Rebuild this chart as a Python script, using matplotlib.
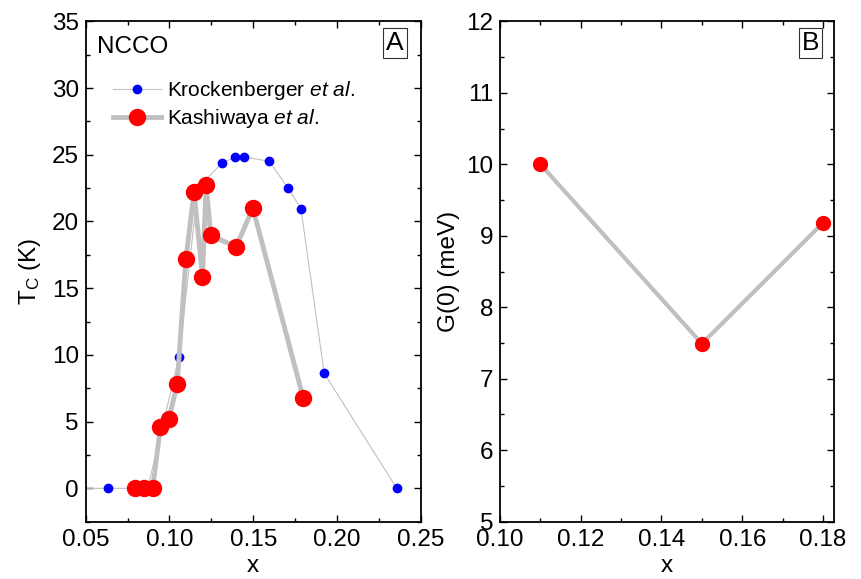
import numpy as np
import matplotlib.pyplot as plt
from matplotlib.ticker import MultipleLocator

plt.rcParams['font.family'] = ['Liberation Sans', 'DejaVu Sans']
plt.rcParams['mathtext.fontset'] = 'custom'
plt.rcParams['mathtext.rm'] = 'Liberation Sans'
plt.rcParams['mathtext.it'] = 'Liberation Sans:italic'

# Krockenberger et al. (Tc vs x)
kro_x = [0.040, 0.0633, 0.087, 0.1058, 0.117, 0.1315, 0.1389, 0.1446, 0.1596, 0.1709, 0.1785, 0.1924, 0.2357]
kro_tc = [0.0, 0.0, 0.0, 9.87, 22.5, 24.4, 24.8, 24.85, 24.5, 22.5, 20.95, 8.62, 0.0]

# Kashiwaya et al. (Tc vs x)
kas_x = [0.0795, 0.0848, 0.090, 0.0946, 0.0996, 0.1046, 0.1098, 0.1147, 0.1197, 0.1219, 0.1247, 0.1398, 0.1498, 0.1799]
kas_tc = [0.0, 0.0, 0.0, 4.6, 5.18, 7.8, 17.18, 22.2, 15.87, 22.7, 18.95, 18.1, 21.0, 6.75]

# gap G(0) vs x
gap_x = [0.11, 0.15, 0.18]
gap_g = [10.0, 7.49, 9.18]

W, H = 861, 579
fig = plt.figure(figsize=(W / 100, H / 100), dpi=100)
ax1 = fig.add_axes([85.7 / W, (H - 521.7) / H, 335.0 / W, 500.4 / H])
ax2 = fig.add_axes([500.0 / W, (H - 521.7) / H, 334.3 / W, 500.4 / H])

grey = '#c0c0c0'
fs = 17.5
box = dict(boxstyle='square,pad=0.12', fc='white', ec='#333333', lw=0.8)

ax1.plot(kro_x, kro_tc, '-', color=grey, lw=0.8, marker='o', ms=6,
         mfc='#0000ff', mec='#0000ff', label=r'Krockenberger $\mathit{et\ al.}$', zorder=2)
ax1.plot(kas_x, kas_tc, '-', color=grey, lw=3.5, marker='o', ms=11.5,
         mfc='#ff0000', mec='#ff0000', label=r'Kashiwaya $\mathit{et\ al.}$', zorder=3)
ax1.set_xlim(0.05, 0.25)
ax1.set_ylim(-2.5, 35)
ax1.xaxis.set_major_locator(MultipleLocator(0.05))
ax1.xaxis.set_minor_locator(MultipleLocator(0.025))
ax1.yaxis.set_major_locator(MultipleLocator(5))
ax1.yaxis.set_minor_locator(MultipleLocator(2.5))
ax1.xaxis.set_major_formatter(plt.FuncFormatter(lambda v, p: '%.2f' % v))
ax1.set_xlabel('x', fontsize=fs, labelpad=3)
ax1.set_ylabel(r'T$_\mathrm{C}$ (K)', fontsize=fs, labelpad=6)
ax1.text(0.033, 0.97, 'NCCO', transform=ax1.transAxes, fontsize=fs, va='top', ha='left')
ax1.text(0.923, 0.957, 'A', transform=ax1.transAxes, fontsize=19, va='center', ha='center',
         bbox=box)
ax1.legend(loc='upper left', bbox_to_anchor=(0.081, 0.885), frameon=False, fontsize=15,
           handlelength=2.3, handletextpad=0.3, labelspacing=0.25, borderaxespad=0,
           borderpad=0)

ax2.plot(gap_x, gap_g, '-', color=grey, lw=3, marker='o', ms=10,
         mfc='#ff0000', mec='#ff0000')
ax2.set_xlim(0.10, 0.1828)
ax2.set_ylim(5, 12)
ax2.xaxis.set_major_locator(MultipleLocator(0.02))
ax2.xaxis.set_minor_locator(MultipleLocator(0.01))
ax2.yaxis.set_major_locator(MultipleLocator(1))
ax2.yaxis.set_minor_locator(MultipleLocator(0.5))
ax2.xaxis.set_major_formatter(plt.FuncFormatter(lambda v, p: '%.2f' % v))
ax2.set_xlabel('x', fontsize=fs, labelpad=3)
ax2.set_ylabel('G(0) (meV)', fontsize=fs, labelpad=4)
ax2.text(0.929, 0.957, 'B', transform=ax2.transAxes, fontsize=19, va='center', ha='center',
         bbox=box)

for ax in (ax1, ax2):
    for s in ax.spines.values():
        s.set_linewidth(1.3)
    ax.tick_params(which='both', direction='in', top=True, right=True, labelsize=fs, width=1.0)
    ax.tick_params(which='major', length=5, pad=5)
    ax.tick_params(which='minor', length=3)

fig.savefig('out.png', dpi=100)
